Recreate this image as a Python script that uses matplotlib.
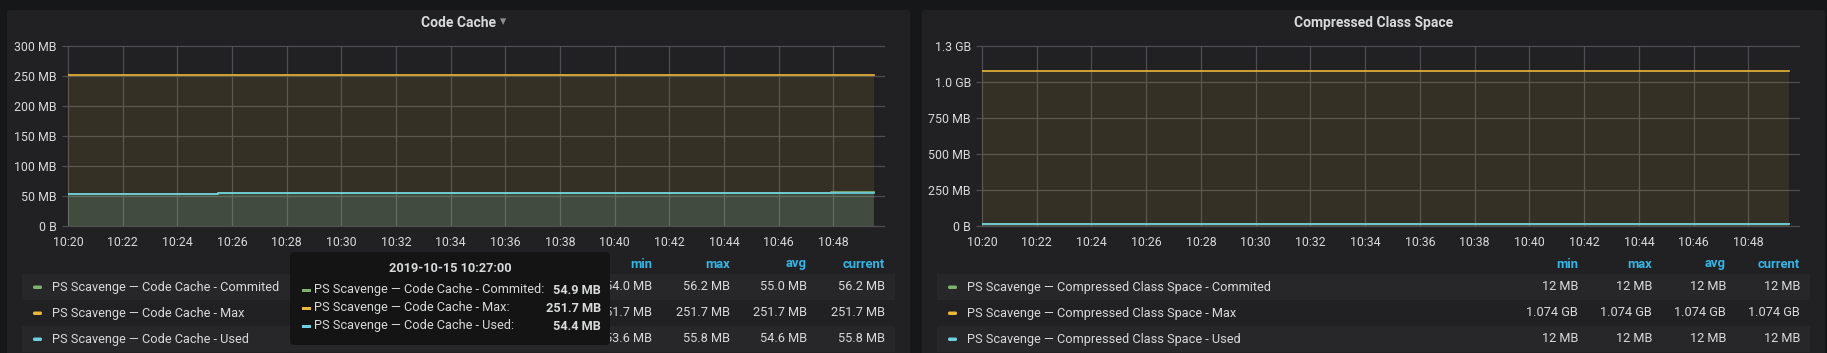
import matplotlib
matplotlib.use('Agg')
import matplotlib.pyplot as plt
from matplotlib.patches import FancyBboxPatch, Rectangle

plt.rcParams['font.family'] = ['Roboto', 'DejaVu Sans']

# ---- data (minutes after 10:20, change points of step series) ----
time_labels = ['10:20', '10:22', '10:24', '10:26', '10:28', '10:30', '10:32', '10:34',
               '10:36', '10:38', '10:40', '10:42', '10:44', '10:46', '10:48']

cc_t = [0, 5.5, 15.5, 27.9, 29.5]
cc_committed = [54.0, 54.9, 55.3, 56.2, 56.2]
cc_max = [251.7, 251.7, 251.7, 251.7, 251.7]
cc_used = [53.6, 54.4, 54.9, 55.8, 55.8]
cc_yticks = [0, 50, 100, 150, 200, 250, 300]
cc_ylabels = ['0 B', '50 MB', '100 MB', '150 MB', '200 MB', '250 MB', '300 MB']

ccs_t = [0, 29.5]
ccs_committed = [12, 12]
ccs_max = [1074, 1074]
ccs_used = [12, 12]
ccs_yticks = [0, 250, 500, 750, 1000, 1250]
ccs_ylabels = ['0 B', '250 MB', '500 MB', '750 MB', '1.0 GB', '1.3 GB']

series_names = ['Commited', 'Max', 'Used']
series_colors = ['#7eb26d', '#eab839', '#6ed0e0']

stat_cols = ['min', 'max', 'avg', 'current']
cc_stats = [['54.0 MB', '56.2 MB', '55.0 MB', '56.2 MB'],
            ['251.7 MB', '251.7 MB', '251.7 MB', '251.7 MB'],
            ['53.6 MB', '55.8 MB', '54.6 MB', '55.8 MB']]
ccs_stats = [['12 MB', '12 MB', '12 MB', '12 MB'],
             ['1.074 GB', '1.074 GB', '1.074 GB', '1.074 GB'],
             ['12 MB', '12 MB', '12 MB', '12 MB']]

tip_time = '2019-10-15 10:27:00'
tip_values = ['54.9 MB', '251.7 MB', '54.4 MB']

W, H = 1827, 353
BG = '#161719'
PANEL = '#212124'
ROW = '#27272a'
GRID = '#4e4e52'
TXT = '#d8d9da'
BLUE = '#33b5e5'

fig = plt.figure(figsize=(W / 100, H / 100), dpi=100, facecolor=BG)

# pixel-space overlay for panel chrome
back = fig.add_axes([0, 0, 1, 1], zorder=0)
back.set_xlim(0, W)
back.set_ylim(H, 0)
back.axis('off')
front = fig.add_axes([0, 0, 1, 1], zorder=5)
front.set_xlim(0, W)
front.set_ylim(H, 0)
front.axis('off')
front.patch.set_alpha(0)


def px_axes(x0, x1, y0, y1):
    return fig.add_axes([x0 / W, 1 - y1 / H, (x1 - x0) / W, (y1 - y0) / H], zorder=1)


def draw_graph(ax, t, values, yticks, ylabels):
    ax.patch.set_alpha(0)
    for v, c in zip(values, series_colors):
        ax.fill_between(t, 0, v, step='post', color=c, alpha=0.1, lw=0)
        ax.plot(t, v, drawstyle='steps-post', color=c, lw=1.2)
    xt = [int(s[3:]) - 20 for s in time_labels]
    ax.set_xticks(xt)
    ax.set_xticklabels(time_labels)
    ax.set_yticks(yticks)
    ax.set_yticklabels(ylabels)
    ax.set_xlim(0, 29.85)
    ax.set_ylim(yticks[0], yticks[-1])
    for s in ax.spines.values():
        s.set_visible(False)
    ax.grid(True, color=GRID, lw=0.9)
    for gl in ax.get_xgridlines() + ax.get_ygridlines():
        gl.set_clip_on(False)
    ax.tick_params(axis='x', length=0, pad=7, colors=TXT, labelsize=8.9)
    ax.tick_params(axis='y', length=4, width=0.9, color=GRID, pad=4, colors=TXT, labelsize=8.9)
    ax.set_axisbelow(True)


def draw_panel(x0, x1, title, metric, stats, col_right):
    back.add_patch(FancyBboxPatch((x0, 10), x1 - x0, H, boxstyle='round,pad=0,rounding_size=3',
                                  fc=PANEL, ec='none'))
    cx = (x0 + x1) / 2
    back.text(cx, 23, title, color=TXT, fontsize=10, fontweight='bold', ha='center', va='center')
    # legend table
    for j, name in enumerate(stat_cols):
        back.text(col_right[j], 264, name, color=BLUE, fontsize=9.4, fontweight='bold',
                  ha='right', va='center')
    rows_y = [287, 313, 339]
    for i, (name, c) in enumerate(zip(series_names, series_colors)):
        y = rows_y[i]
        if i != 1:
            back.add_patch(Rectangle((x0 + 15, y - 13), x1 - x0 - 30, 25.5, fc=ROW, ec='none'))
        back.add_patch(FancyBboxPatch((x0 + 26, y - 1.5), 9, 3.5, boxstyle='round,pad=0,rounding_size=1.5',
                                      fc=c, ec='none'))
        back.text(x0 + 45, y, f'PS Scavenge — {metric} - {name}', color=TXT, fontsize=9.2,
                  ha='left', va='center')
        for j, val in enumerate(stats[i]):
            back.text(col_right[j], y, val, color=TXT, fontsize=9.2, ha='right', va='center')


draw_panel(7, 910, 'Code Cache', 'Code Cache', cc_stats, [652, 730, 807, 885])
back.text(503, 22, '▾', color='#8e8e8e', fontsize=9, ha='center', va='center',
          family=['DejaVu Sans'])
draw_panel(922, 1825, 'Compressed Class Space', 'Compressed Class Space', ccs_stats,
           [1578, 1652, 1726, 1800])

ax1 = px_axes(68, 884, 46, 226)
draw_graph(ax1, cc_t, [cc_committed, cc_max, cc_used], cc_yticks, cc_ylabels)
ax2 = px_axes(982, 1799, 46, 226)
draw_graph(ax2, ccs_t, [ccs_committed, ccs_max, ccs_used], ccs_yticks, ccs_ylabels)

# hover tooltip
front.add_patch(FancyBboxPatch((290, 252), 320, 93, boxstyle='round,pad=0,rounding_size=4',
                               fc='#141414', ec='none'))
front.text(450, 268, tip_time, color=TXT, fontsize=9.2, fontweight='bold', ha='center', va='center')
for i, (name, c, val) in enumerate(zip(series_names, series_colors, tip_values)):
    y = 290 + i * 18
    front.add_patch(Rectangle((302, y - 1), 9, 2.5, fc=c, ec='none'))
    front.text(314, y, f'PS Scavenge — Code Cache - {name}:', color=TXT, fontsize=9.2,
               ha='left', va='center')
    front.text(601, y, val, color=TXT, fontsize=9.2, fontweight='bold', ha='right', va='center')

fig.savefig('out.png', dpi=100, facecolor=BG)
